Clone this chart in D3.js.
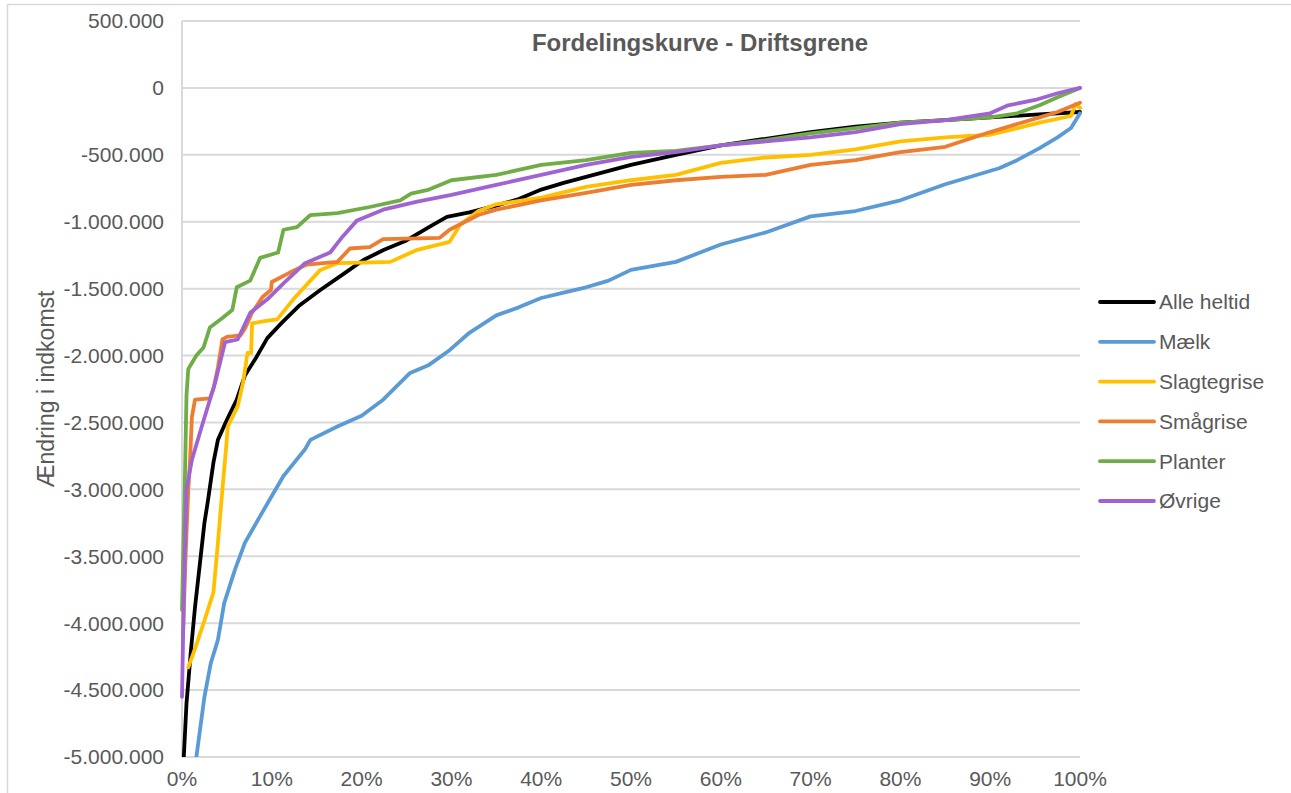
<!DOCTYPE html>
<html>
<head>
<meta charset="utf-8">
<script src="https://cdn.jsdelivr.net/npm/d3@7"></script>
<style>
  body { margin: 0; background: #fff; }
  svg { display: block; font-family: "Liberation Sans", Arial, sans-serif; }
</style>
</head>
<body>
<div id="chart"></div>
<script>
// values in 1000 kr, x in percent of farms
const alleHeltid = [[0, -5600], [0.2, -5000], [0.5, -4600], [1.0, -4200], [1.45, -3880], [2.0, -3550], [2.5, -3250], [2.9, -3080], [3.5, -2800], [4.0, -2630], [5.0, -2480], [6.1, -2330], [7.0, -2150], [8.3, -2010], [9.5, -1870], [11.1, -1756], [13, -1630], [15.4, -1510], [18, -1390], [20.2, -1286], [22.5, -1210], [25, -1140], [27.5, -1040], [29.5, -964], [32, -930], [35, -880], [37.5, -830], [40, -760], [42.5, -710], [45, -665], [47.5, -620], [50, -575], [55, -500], [60, -430], [65, -380], [70, -330], [75, -290], [80, -260], [85, -240], [90, -220], [95, -200], [100, -180]];
const maelk = [[1.2, -5400], [1.6, -5000], [2.0, -4800], [2.5, -4550], [3.2, -4300], [4.0, -4125], [4.7, -3850], [5.9, -3600], [7.0, -3400], [8.7, -3200], [10.0, -3050], [11.3, -2900], [12.5, -2800], [13.7, -2700], [14.3, -2630], [17.3, -2530], [20, -2450], [22.4, -2330], [25.4, -2130], [27.5, -2070], [29.8, -1960], [32, -1830], [35, -1700], [37.5, -1640], [40, -1570], [42.5, -1530], [45, -1490], [47.5, -1440], [50, -1360], [55, -1300], [60, -1170], [65, -1080], [70, -960], [75, -920], [80, -840], [85, -720], [88, -660], [91, -600], [93, -540], [95.5, -450], [97.5, -370], [99, -300], [100, -190]];
const slagtegrise = [[0.7, -4330], [1.5, -4180], [2.5, -3980], [3.5, -3770], [4.0, -3400], [4.5, -3000], [4.9, -2700], [5.1, -2530], [6.2, -2380], [6.8, -2200], [7.3, -1980], [7.7, -1980], [7.8, -1760], [9, -1745], [10.6, -1730], [12.4, -1580], [15.4, -1360], [17.3, -1310], [20, -1305], [23.2, -1300], [26.2, -1210], [29.8, -1150], [31, -1020], [33, -920], [35, -870], [40, -820], [45, -740], [50, -690], [55, -650], [60, -560], [65, -520], [70, -500], [75, -460], [80, -400], [85, -370], [90, -350], [95.5, -260], [99, -210], [99.5, -120], [100, -150]];
const smaagrise = [[0.1, -4110], [0.4, -3500], [0.7, -3000], [0.9, -2780], [1.1, -2460], [1.45, -2330], [3.1, -2320], [3.5, -2250], [4.0, -2090], [4.5, -1880], [5.0, -1860], [6.5, -1850], [7.0, -1800], [7.8, -1680], [9.0, -1560], [9.9, -1510], [10.0, -1450], [12.0, -1380], [13.9, -1320], [17.3, -1300], [18.7, -1200], [20.9, -1190], [22.4, -1130], [28.7, -1120], [29.8, -1060], [33, -950], [35, -910], [40, -840], [45, -785], [50, -725], [55, -690], [60, -665], [65, -650], [70, -575], [75, -540], [80, -480], [85, -440], [90, -330], [95.5, -220], [97.5, -180], [100, -110]];
const planter = [[0, -3900], [0.3, -3000], [0.5, -2300], [0.7, -2100], [1.6, -2000], [2.4, -1940], [3.1, -1790], [4.5, -1720], [5.6, -1660], [6.1, -1490], [7.6, -1440], [8.7, -1270], [10.7, -1230], [11.3, -1060], [12.8, -1040], [14.3, -950], [17.3, -935], [20.9, -890], [24.3, -840], [25.5, -790], [27.5, -760], [30, -690], [35, -650], [40, -575], [45, -540], [50, -485], [55, -470], [60, -430], [65, -390], [70, -340], [75, -300], [80, -260], [85, -240], [90, -220], [93, -190], [95.5, -130], [97.5, -70], [100, 0]];
const oevrige = [[0, -4550], [0.2, -3800], [0.5, -3000], [1.1, -2780], [2.2, -2530], [3.7, -2200], [4.8, -1900], [6.2, -1880], [7.6, -1680], [9.5, -1580], [11.3, -1460], [13.7, -1310], [16.5, -1230], [17.9, -1110], [19.5, -990], [22.4, -910], [26.2, -850], [30, -800], [35, -725], [40, -650], [45, -575], [50, -515], [55, -480], [60, -430], [65, -400], [70, -370], [75, -330], [80, -270], [85, -240], [90, -190], [92, -130], [95, -90], [97.5, -40], [100, 0]];

const seriesNames = ["Alle heltid", "Mælk", "Slagtegrise", "Smågrise", "Planter", "Øvrige"];
const seriesData = [alleHeltid, maelk, slagtegrise, smaagrise, planter, oevrige];
const seriesColors = ["#000000", "#5B9BD5", "#FFC000", "#ED7D31", "#70AD47", "#A064D2"];
const yTicks = d3.range(-5000, 501, 500);
const xTicks = d3.range(0, 101, 10);

const W = 1291, H = 793;
const plot = { left: 182, right: 1080, top: 21, bottom: 757 };

const svg = d3.select("#chart").append("svg")
    .attr("width", W)
    .attr("height", H);

// chart border (runs off the page right and bottom)
svg.append("rect")
    .attr("x", 7.5).attr("y", 4.5)
    .attr("width", 1400).attr("height", 900)
    .attr("fill", "none")
    .attr("stroke", "#d9d9d9")
    .attr("stroke-width", 1.5);

const x = d3.scaleLinear().domain([0, 100]).range([plot.left, plot.right]);
const y = d3.scaleLinear().domain([-5000, 500]).range([plot.bottom, plot.top]);

const dk = d3.formatLocale({ decimal: ",", thousands: ".", grouping: [3], currency: ["", " kr"], minus: "-" });
const fmt = dk.format(",.0f");

// horizontal gridlines
svg.append("g")
    .selectAll("line")
    .data(yTicks)
    .enter()
    .append("line")
    .attr("x1", plot.left).attr("x2", plot.right)
    .attr("y1", d => y(d)).attr("y2", d => y(d))
    .attr("stroke", "#d9d9d9")
    .attr("stroke-width", 2);

// vertical axis line
svg.append("line")
    .attr("x1", plot.left).attr("x2", plot.left)
    .attr("y1", plot.top).attr("y2", plot.bottom)
    .attr("stroke", "#d9d9d9")
    .attr("stroke-width", 2);

// y tick labels
svg.append("g")
    .selectAll("text")
    .data(yTicks)
    .enter()
    .append("text")
    .attr("x", 164)
    .attr("y", d => y(d))
    .attr("dy", "0.35em")
    .attr("text-anchor", "end")
    .attr("font-size", 21)
    .attr("fill", "#595959")
    .text(d => fmt(d * 1000));

// x tick labels
svg.append("g")
    .selectAll("text")
    .data(xTicks)
    .enter()
    .append("text")
    .attr("x", d => x(d))
    .attr("y", 779)
    .attr("dy", "0.35em")
    .attr("text-anchor", "middle")
    .attr("font-size", 21)
    .attr("fill", "#595959")
    .text(d => d + "%");

// axis title
svg.append("text")
    .attr("transform", "translate(46," + 389 + ") rotate(-90)")
    .attr("text-anchor", "middle")
    .attr("dy", "0.35em")
    .attr("font-size", 23)
    .attr("fill", "#595959")
    .text("Ændring i indkomst");

// chart title
svg.append("text")
    .attr("x", 700)
    .attr("y", 43)
    .attr("dy", "0.35em")
    .attr("text-anchor", "middle")
    .attr("font-size", 24)
    .attr("font-weight", "bold")
    .attr("fill", "#595959")
    .text("Fordelingskurve - Driftsgrene");

svg.append("clipPath")
    .attr("id", "plot-clip")
    .append("rect")
    .attr("x", plot.left - 3).attr("y", plot.top)
    .attr("width", plot.right - plot.left + 6)
    .attr("height", plot.bottom - plot.top);

const line = d3.line()
    .x(d => x(d[0]))
    .y(d => y(d[1]));

svg.append("g")
    .attr("clip-path", "url(#plot-clip)")
    .selectAll("path")
    .data(seriesData)
    .enter()
    .append("path")
    .attr("d", line)
    .attr("fill", "none")
    .attr("stroke", (d, i) => seriesColors[i])
    .attr("stroke-width", 3.8)
    .attr("stroke-linejoin", "round")
    .attr("stroke-linecap", "round");

// legend
const legend = svg.append("g")
    .selectAll("g")
    .data(seriesNames)
    .enter()
    .append("g")
    .attr("transform", (d, i) => "translate(1100," + (302 + i * 39.8) + ")");

legend.append("line")
    .attr("x1", 0).attr("x2", 54)
    .attr("stroke", (d, i) => seriesColors[i])
    .attr("stroke-width", 3.8)
    .attr("stroke-linecap", "round");

legend.append("text")
    .attr("x", 59)
    .attr("dy", "0.35em")
    .attr("font-size", 21)
    .attr("fill", "#595959")
    .text(d => d);
</script>
</body>
</html>
